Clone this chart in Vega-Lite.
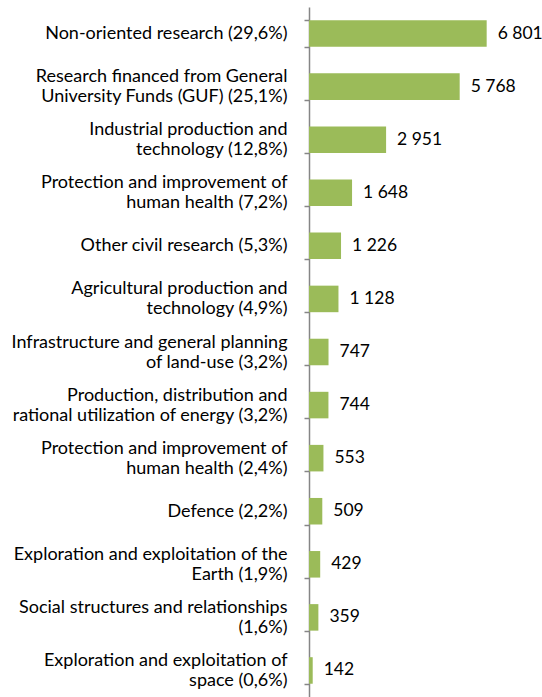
{
  "$schema": "https://vega.github.io/schema/vega-lite/v6.json",
  "width": 209,
  "height": 690,
  "autosize": {"type": "none"},
  "padding": {"left": 309, "top": 7, "right": 24, "bottom": 0},
  "background": "white",
  "config": {
    "view": {"stroke": null},
    "locale": {"number": {"decimal": ",", "thousands": " ", "grouping": [3], "currency": ["", ""]}}
  },
  "data": {
    "values": [
      {"cat": "Non-oriented research (29,6%)", "v": 6801},
      {"cat": "Research financed from General|University Funds (GUF) (25,1%)", "v": 5768},
      {"cat": "Industrial production and|technology (12,8%)", "v": 2951},
      {"cat": "Protection and improvement of|human health (7,2%)", "v": 1648},
      {"cat": "Other civil research (5,3%)", "v": 1226},
      {"cat": "Agricultural production and|technology (4,9%)", "v": 1128},
      {"cat": "Infrastructure and general planning|of land-use (3,2%)", "v": 747},
      {"cat": "Production, distribution and|rational utilization of energy (3,2%)", "v": 744},
      {"cat": "Protection and improvement of |human health (2,4%)", "v": 553},
      {"cat": "Defence (2,2%)", "v": 509},
      {"cat": "Exploration and exploitation of the|Earth (1,9%)", "v": 429},
      {"cat": "Social structures and relationships|(1,6%)", "v": 359},
      {"cat": "Exploration and exploitation of|space (0,6%)", "v": 142}
    ]
  },
  "encoding": {
    "y": {
      "field": "cat", "type": "nominal", "sort": null,
      "scale": {"paddingInner": 0.5, "paddingOuter": 0.25},
      "axis": {
        "title": null,
        "labelExpr": "isValid(datum.value) ? split(datum.value, '|') : ''",
        "labelOffset": {"condition": {"test": "isValid(datum.value) && indexof(datum.value, '|') >= 0", "value": -10}, "value": 0},
        "labelFont": "Lato", "labelFontSize": 18, "labelColor": "#000000",
        "labelLimit": 400, "labelPadding": 17, "labelLineHeight": 20,
        "tickBand": "extent", "tickColor": "#868686", "tickSize": 5, "tickWidth": 1.5,
        "domainColor": "#868686", "domainWidth": 1.5
      }
    },
    "x": {
      "field": "v", "type": "quantitative",
      "scale": {"domain": [0, 8000], "nice": false},
      "axis": null
    }
  },
  "layer": [
    {"mark": {"type": "bar", "color": "#9BBB59"}},
    {
      "mark": {"type": "text", "align": "left", "baseline": "middle", "dx": 11, "font": "Lato", "fontSize": 17.5, "color": "#000000"},
      "encoding": {"text": {"field": "v", "type": "quantitative", "format": ","}}
    }
  ]
}
